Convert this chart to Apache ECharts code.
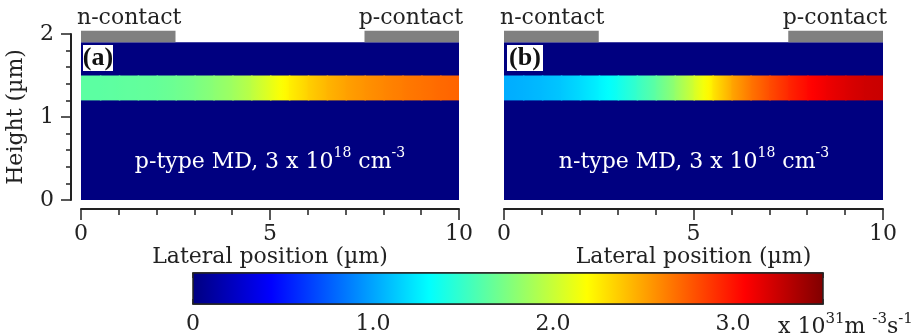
<!DOCTYPE html>
<html>
<head>
<meta charset="utf-8">
<script src="https://cdn.jsdelivr.net/npm/echarts@6/dist/echarts.min.js"></script>
<style>
  html, body { margin: 0; padding: 0; background: #fff; }
  #chart { width: 921px; height: 335px; }
</style>
</head>
<body>
<div id="chart"></div>
<script>
// lateral sample positions across the device (µm)
var xPos = [0, 0.5, 1, 1.5, 2, 2.5, 3, 3.5, 4, 4.5, 5, 5.5, 6, 6.5, 7, 7.5, 8, 8.5, 9, 9.5, 10];
// recombination rate in the active layer, x 10^31 m^-3 s^-1
var rateP = [1.63, 1.63, 1.64, 1.65, 1.66, 1.69, 1.73, 1.79, 1.86, 1.96, 2.10, 2.24, 2.35, 2.44, 2.51, 2.56, 2.60, 2.64, 2.67, 2.70, 2.72];
var rateN = [1.03, 1.05, 1.08, 1.12, 1.19, 1.27, 1.37, 1.50, 1.64, 1.82, 2.04, 2.27, 2.49, 2.66, 2.80, 2.93, 3.04, 3.12, 3.18, 3.23, 3.25];
// geometry (µm)
var contacts = [[0, 2.5], [7.5, 10]];
var activeLayer = [1.2, 1.5];
var deviceTop = 1.9;
var contactTop = 2.04;
// colour bar
var rateMax = 3.5;
var cbLabels = ['0', '1.0', '2.0', '3.0'];

var JET = ['#00007f', '#0000ff', '#007fff', '#00ffff', '#7fff7f', '#ffff00', '#ff7f00', '#ff0000', '#7f0000'];
var FONT = 'DejaVu Serif';
var FS = 22;
var INK = '#222';
var NAVY = '#000080';

function jet(v) {
  return echarts.color.lerp(Math.max(0, Math.min(1, v / rateMax)), JET);
}

function cells(rates) {
  var out = [];
  for (var i = 0; i < xPos.length - 1; i++) {
    out.push([xPos[i], xPos[i + 1], rates[i], rates[i + 1]]);
  }
  return out;
}

// rectangle from [x0, x1] x [y0, y1] in data space
function box(api, x0, x1, y0, y1) {
  var a = api.coord([x0, y1]);
  var b = api.coord([x1, y0]);
  return { x: a[0], y: a[1], width: b[0] - a[0], height: b[1] - a[1] };
}

function layerItem(params, api) {
  var v0 = api.value(2), v1 = api.value(3);
  var stops = [0, 0.25, 0.5, 0.75, 1].map(function (f) {
    return { offset: f, color: jet(v0 + (v1 - v0) * f) };
  });
  var s = box(api, api.value(0), api.value(1), activeLayer[0], activeLayer[1]);
  if (params.dataIndex < xPos.length - 2) s.width += 1.5;
  return {
    type: 'rect', shape: s,
    style: { fill: new echarts.graphic.LinearGradient(0, 0, 1, 0, stops) }
  };
}

function deviceItem(params, api) {
  return { type: 'rect', shape: box(api, 0, 10, 0, deviceTop), style: { fill: NAVY } };
}

function contactItem(params, api) {
  return {
    type: 'rect',
    shape: box(api, api.value(0), api.value(1), deviceTop, contactTop),
    style: { fill: '#808080' }
  };
}

function colorbarItem(params, api) {
  var stops = JET.map(function (c, i) { return { offset: i / (JET.length - 1), color: c }; });
  var a = api.coord([0, 1]);
  var b = api.coord([rateMax, 0]);
  return {
    type: 'rect',
    shape: { x: a[0], y: a[1], width: b[0] - a[0], height: b[1] - a[1] },
    style: { fill: new echarts.graphic.LinearGradient(0, 0, 1, 0, stops), stroke: INK, lineWidth: 1.5 }
  };
}

function xAxisFor(g) {
  return {
    type: 'value', gridIndex: g, min: 0, max: 10, interval: 5, position: 'bottom', offset: 9,
    axisLine: { onZero: false, lineStyle: { color: INK, width: 2 } },
    axisTick: { length: 11, lineStyle: { color: INK, width: 1.5 } },
    minorTick: { show: true, splitNumber: 5, length: 6, lineStyle: { color: INK, width: 1.5 } },
    splitLine: { show: false },
    axisLabel: { fontFamily: FONT, fontSize: FS, color: INK, margin: 14 },
    name: 'Lateral position (µm)', nameLocation: 'middle', nameGap: 34,
    nameTextStyle: { fontFamily: FONT, fontSize: FS, color: INK }
  };
}

function panelSeries(g, rates) {
  return [
    { type: 'custom', xAxisIndex: g, yAxisIndex: g, renderItem: deviceItem, data: [[0, 0]], silent: true },
    { type: 'custom', xAxisIndex: g, yAxisIndex: g, renderItem: layerItem, data: cells(rates), silent: true },
    { type: 'custom', xAxisIndex: g, yAxisIndex: g, renderItem: contactItem, data: contacts, silent: true }
  ];
}

function txt(x, y, text, align, extra) {
  var style = { text: text, font: FS + 'px "' + FONT + '"', fill: INK, textAlign: align, textVerticalAlign: 'middle' };
  for (var k in extra) style[k] = extra[k];
  return { type: 'text', x: x, y: y, z: 100, silent: true, style: style };
}

var mdRich = {
  n: { fontSize: FS, fontFamily: FONT, fill: '#fff', lineHeight: 27, verticalAlign: 'bottom' },
  s: { fontSize: 14, fontFamily: FONT, fill: '#fff', lineHeight: 14, verticalAlign: 'top' }
};
var unitRich = {
  n: { fontSize: FS, fontFamily: FONT, fill: INK, lineHeight: 27, verticalAlign: 'bottom' },
  s: { fontSize: 15, fontFamily: FONT, fill: INK, lineHeight: 15, verticalAlign: 'top' }
};
var tagFont = 'bold 26px "Liberation Serif"';

var chart = echarts.init(document.getElementById('chart'));

var option = {
  animation: false,
  backgroundColor: '#fff',
  grid: [
    { left: 81, top: 34, width: 378, height: 166 },
    { left: 504, top: 34, width: 379, height: 166 },
    { left: 193, top: 273, width: 630, height: 32 }
  ],
  xAxis: [
    xAxisFor(0),
    xAxisFor(1),
    {
      type: 'value', gridIndex: 2, min: 0, max: rateMax, interval: 0.5, position: 'bottom',
      axisLine: { onZero: false, lineStyle: { color: INK, width: 1.5 } },
      axisTick: { inside: true, length: 5, lineStyle: { color: INK, width: 1.5 } },
      splitLine: { show: false },
      axisLabel: {
        fontFamily: FONT, fontSize: FS, color: INK, margin: 9,
        formatter: function (v) { return v % 1 === 0 ? cbLabels[v] : ''; }
      }
    },
    {
      type: 'value', gridIndex: 2, min: 0, max: rateMax, interval: 0.5, position: 'top',
      axisLine: { onZero: false, lineStyle: { color: INK, width: 1.5 } },
      axisTick: { inside: true, length: 5, lineStyle: { color: INK, width: 1.5 } },
      splitLine: { show: false },
      axisLabel: { show: false }
    }
  ],
  yAxis: [
    {
      type: 'value', gridIndex: 0, min: 0, max: 2, interval: 1, position: 'left', offset: 10,
      axisLine: { onZero: false, lineStyle: { color: INK, width: 2 } },
      axisTick: { length: 10, lineStyle: { color: INK, width: 1.5 } },
      minorTick: { show: true, splitNumber: 5, length: 5, lineStyle: { color: INK, width: 1.5 } },
      splitLine: { show: false },
      axisLabel: { fontFamily: FONT, fontSize: FS, color: INK, margin: 17 },
      name: 'Height (µm)', nameLocation: 'middle', nameGap: 44,
      nameTextStyle: { fontFamily: FONT, fontSize: FS, color: INK }
    },
    { type: 'value', gridIndex: 1, min: 0, max: 2, show: false },
    { type: 'value', gridIndex: 2, min: 0, max: 1, show: false }
  ],
  series: panelSeries(0, rateP).concat(panelSeries(1, rateN)).concat([
    { type: 'custom', xAxisIndex: 2, yAxisIndex: 2, renderItem: colorbarItem, data: [[0, 0]], silent: true }
  ]),
  graphic: [
    txt(77, 18, 'n-contact', 'left'),
    txt(463, 18, 'p-contact', 'right'),
    txt(500, 18, 'n-contact', 'left'),
    txt(887, 18, 'p-contact', 'right'),
    { type: 'rect', z: 99, silent: true, shape: { x: 83, y: 45, width: 30, height: 26 }, style: { fill: '#fff' } },
    txt(98, 58, '(a)', 'center', { font: tagFont, fill: '#111' }),
    { type: 'rect', z: 99, silent: true, shape: { x: 507, y: 45, width: 36, height: 26 }, style: { fill: '#fff' } },
    txt(525, 58, '(b)', 'center', { font: tagFont, fill: '#111' }),
    txt(270, 160, '{n|p-type MD, 3 x 10}{s|18}{n| cm}{s|-3}', 'center', { rich: mdRich }),
    txt(694, 160, '{n|n-type MD, 3 x 10}{s|18}{n| cm}{s|-3}', 'center', { rich: mdRich }),
    txt(778, 325, '{n|x 10}{s|31}{n|m }{s|-3}{n|s}{s|-1}', 'left', { rich: unitRich })
  ]
};

chart.setOption(option);
</script>
</body>
</html>
